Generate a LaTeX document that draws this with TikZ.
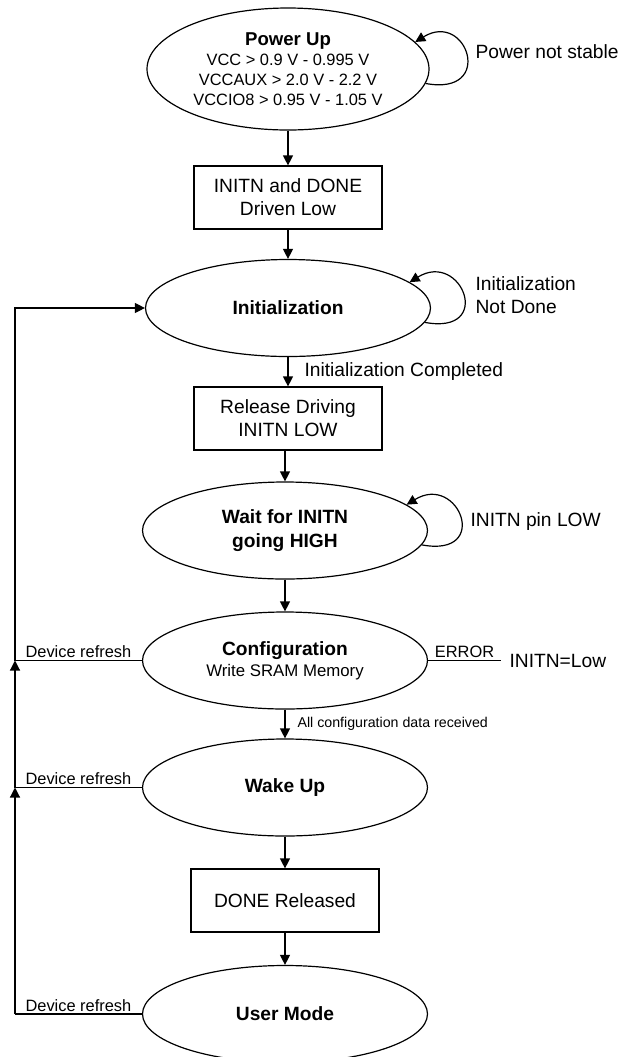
\documentclass[tikz,border=0pt]{standalone}
\usepackage{fontspec}
\setmainfont{Liberation Sans}
\usetikzlibrary{shapes.geometric,arrows.meta,positioning}

\begin{document}
\begin{tikzpicture}[x=0.5pt,y=-0.5pt,line width=0.6pt,
    every node/.style={font=\fontsize{9.6}{11.5}\selectfont},
    state/.style={draw,ellipse,inner sep=0pt,minimum width=142.5pt,minimum height=48.5pt,align=center},
    act/.style={draw,rectangle,minimum width=94pt,minimum height=31.5pt,align=center},
    bold/.style={font=\fontsize{9.6}{12}\selectfont\bfseries},
    lbl/.style={inner sep=1pt,align=left},
    small/.style={inner sep=1pt,font=\fontsize{8.2}{9}\selectfont},
    arr/.style={-{Triangle[length=5pt,width=5pt]}}]
    \path[use as bounding box] (0,0) rectangle (618,1057);
    \clip (0,0) rectangle (618,1057);

    % states and actions
    \node[state,minimum width=141pt,minimum height=61pt,font=\fontsize{8.2}{10}\selectfont] (pwr) at (288,69)
        {{\fontsize{9.3}{10}\selectfont\bfseries Power Up}\\VCC > 0.9 V - 0.995 V\\VCCAUX > 2.0 V - 2.2 V\\VCCIO8 > 0.95 V - 1.05 V};
    \node[act] (drv) at (288,197.5) {INITN and DONE\\Driven Low};
    \node[state,bold] (init) at (288,308) {Initialization};
    \node[act] (rel) at (288,418.5) {Release Driving\\INITN LOW};
    \node[state,bold] (wait) at (285,530.5) {Wait for INITN\\going HIGH};
    \node[state,font=\fontsize{8.4}{10.5}\selectfont] (cfg) at (285,660.5)
        {{\fontsize{9.6}{10.5}\selectfont\bfseries Configuration}\\Write SRAM Memory};
    \node[state,bold] (wake) at (285,787.5) {Wake Up};
    \node[act] (done) at (285,900.5) {DONE Released};
    \node[state,bold] (user) at (285,1014) {User Mode};

    % main flow
    \draw[arr] (pwr) -- (drv);
    \draw[arr] (drv) -- (init);
    \draw[arr] (init) -- node[lbl,right=7pt] {Initialization Completed} (rel);
    \draw[arr] (rel.south -| wait) -- (wait);
    \draw[arr] (wait) -- (cfg);
    \draw[arr] (cfg) -- node[inner sep=1pt,right=5pt,font=\fontsize{7.1}{8}\selectfont] {All configuration data received} (wake);
    \draw[arr] (wake) -- (done);
    \draw[arr] (done) -- (user);

    % self loops
    \draw[arr] (pwr.-6) .. controls +(70,13) and +(52,-32) .. (pwr.12);
    \draw[arr] (init.-6) .. controls +(70,13) and +(52,-32) .. (init.12);
    \draw[arr] (wait.-6) .. controls +(70,13) and +(52,-32) .. (wait.12);
    \node[lbl,anchor=west] (pwrtxt) at (473,52) {Power not stable};
    \node[lbl,anchor=west] (inittxt) at (473,295) {Initialization\\Not Done};
    \node[lbl,anchor=west] (waittxt) at (468,522) {INITN pin LOW};

    % error exit
    \node[lbl,anchor=west,inner sep=4pt] (errtxt) at (501,660.5) {INITN=Low};
    \draw (cfg.east) -- node[small,above] {ERROR} (errtxt.west);

    % device refresh
    \coordinate (rail) at (15,308);
    \draw (cfg.west) -- node[small,above] {Device refresh} (cfg.west -| rail);
    \draw (wake.west) -- node[small,above] {Device refresh} (wake.west -| rail);
    \draw (user.west) -- node[small,above] {Device refresh} (user.west -| rail);
    \draw[arr] (user.west -| rail) -- (wake.west -| rail);
    \draw[arr] (wake.west -| rail) -- (cfg.west -| rail);
    \draw[arr] (cfg.west -| rail) -- (init.west -| rail) -- (init.west);
\end{tikzpicture}
\end{document}
